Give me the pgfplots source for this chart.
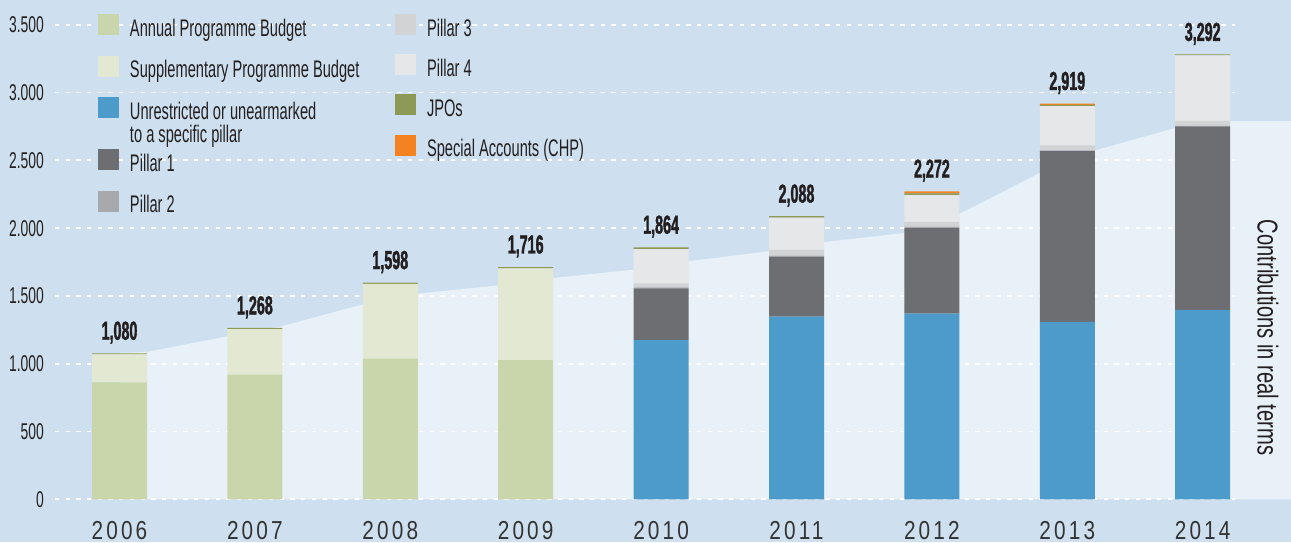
\documentclass[border=0pt]{standalone}
\usepackage{pgfplots}
\pgfplotsset{compat=1.18}
\usepackage{pgfplotstable}
\usepackage{fontspec}
\setmainfont{Liberation Sans}[FakeStretch=0.70]
\newfontfamily\legfont{Liberation Sans}[FakeStretch=0.61]
\newfontfamily\tickfont{Liberation Sans}[FakeStretch=0.61]
\newfontfamily\yearfont{Liberation Sans}[FakeStretch=0.80, LetterSpace=12]
\newfontfamily\valfont{Liberation Sans}[FakeStretch=0.55, BoldFeatures={FakeBold=1.4}]
\newfontfamily\rotfont{Liberation Sans}[FakeStretch=0.70]

\definecolor{bgcol}{HTML}{CEE0EF}
\definecolor{areacol}{HTML}{E8F0F8}
\definecolor{apb}{HTML}{C9D5AA}
\definecolor{spb}{HTML}{E2E8D1}
\definecolor{unr}{HTML}{4D9BCA}
\definecolor{pone}{HTML}{6D6E71}
\definecolor{ptwo}{HTML}{A7A9AC}
\definecolor{pthree}{HTML}{D1D3D4}
\definecolor{pfour}{HTML}{E6E7E8}
\definecolor{jpo}{HTML}{8D9A55}
\definecolor{chp}{HTML}{F58220}
\definecolor{textcol}{HTML}{231F20}
\definecolor{yearcol}{HTML}{333333}

\pgfplotstableread{
x    apb  spb unr  p1   p2 p3 p4  jpo chp tot  lab
2006 863  206 0    0    0  0  0   8   0   1077 1,080
2007 919  337 0    0    0  0  0   8   0   1264 1,268
2008 1037 552 0    0    0  0  0   9   0   1598 1,598
2009 1027 677 0    0    0  0  0   9   0   1713 1,716
2010 0    0   1175 381  8  29 253 13  0   1859 1,864
2011 0    0   1347 443  7  42 238 11  0   2088 2,088
2012 0    0   1369 632  8  38 196 13  16  2272 2,272
2013 0    0   1308 1261 5  36 291 8   10  2919 2,919
2014 0    0   1397 1353 5  36 484 6   0   3281 3,292
}\bardata

\pgfplotstableread{
x       y
2006.0  1080
2006.2  1087
2006.8  1203
2007.2  1277
2007.8  1439
2008.2  1517
2008.8  1578
2009.2  1632
2009.8  1694
2010.2  1756
2010.8  1830
2011.2  1897
2011.8  1965
2012.2  2103
2012.8  2409
2013.2  2572
2013.8  2740
2014.2  2790
2014.66 2790
}\realdata

\pgfplotsset{
  common/.style={scale only axis, width=590pt, height=249.65pt,
    xmin=2005.5236, xmax=2014.2386, ymin=0, ymax=3683,
    at={(0pt,0pt)}, anchor=south west},
  sq/.style={legend image code/.code={\fill[##1] (0pt,0.5pt) rectangle (10.5pt,11pt);}},
  legstyle/.style={legend cell align=left,
    legend style={anchor=north west, draw=none, fill=none, inner sep=0pt, outer sep=0pt,
      column sep=5.5pt, font=\legfont\fontsize{12}{10.75}\selectfont, text=textcol,
      nodes={inner sep=0pt, text depth=2.5pt}, cells={anchor=base west}}},
}

\begin{document}
\begin{tikzpicture}
\fill[bgcol] (-27.5pt,-21.35pt) rectangle (618pt,249.65pt);
\path[use as bounding box] (-27.5pt,-21.35pt) rectangle (618pt,249.65pt);

% background area, grid, tick labels
\begin{axis}[common, clip=false, axis on top,
  axis line style={draw=none}, major tick length=0pt,
  ytick={0,500,...,3500},
  ymajorgrids, grid style={white, line width=0.9pt, dash pattern=on 2.15pt off 3.2pt},
  xtick={2006,2007,2008,2009,2010,2011,2012,2013,2014},
  xticklabels={2006,2007,2008,2009,2010,2011,2012,2013,2014},
  /pgf/number format/assume math mode=true,
  /pgf/number format/1000 sep={.},
  yticklabel style={font=\tickfont\fontsize{11.4}{12}\selectfont, text=textcol, xshift=-2pt},
  xticklabel style={font=\yearfont\fontsize{13}{14}\selectfont, text=yearcol, anchor=base, yshift=-19.95pt},
]
\addplot[fill=areacol, draw=none] table[x=x, y=y] {\realdata} \closedcycle;
\node[rotate=-90, font=\rotfont\fontsize{14.4}{16}\selectfont, text=textcol] at (axis cs:2014.482,1193) {Contributions in real terms};
\end{axis}

% faint vertical stripes
\begin{axis}[at={(-27.5pt,-21.35pt)}, anchor=south west, scale only axis,
  width=645.5pt, height=271pt, xmin=0, xmax=1291, ymin=0, ymax=542,
  axis line style={draw=none}, tick style={draw=none},
  xtick=\empty, ytick=\empty,
  minor xtick={1.7,17,...,1291}, xminorgrids,
  minor grid style={white, opacity=0.3, line width=0.5pt}]
\end{axis}

% bars
\begin{axis}[common, hide axis, ybar stacked, bar width=27.5pt, legstyle,
  legend style={at={(0.03644,0.97196)}, row sep=7.25pt}]
\addplot[sq, fill=apb, draw=none] table[x=x, y=apb] {\bardata};
\addlegendentry{Annual Programme Budget}
\addplot[sq, fill=spb, draw=none] table[x=x, y=spb] {\bardata};
\addlegendentry{Supplementary Programme Budget}
\addplot[sq, fill=unr, draw=none] table[x=x, y=unr] {\bardata};
\addlegendentry[text depth=7.75pt]{\begin{tabular}[t]{@{}l@{}}Unrestricted or unearmarked\\to a specific pillar\end{tabular}}
\addplot[sq, fill=pone, draw=none] table[x=x, y=p1] {\bardata};
\addlegendentry{Pillar 1}
\addplot[sq, fill=ptwo, draw=none] table[x=x, y=p2] {\bardata};
\addlegendentry{Pillar 2}
\addplot[fill=pthree, draw=none] table[x=x, y=p3] {\bardata};
\addplot[fill=pfour, draw=none] table[x=x, y=p4] {\bardata};
\addplot[fill=jpo, draw=none] table[x=x, y=jpo] {\bardata};
\addplot[fill=chp, draw=none] table[x=x, y=chp] {\bardata};
\end{axis}

% second legend column and total labels
\begin{axis}[common, hide axis, clip=false, legstyle,
  legend style={at={(0.28814,0.97196)}, row sep=6.6pt}]
\addlegendimage{sq, fill=pthree, draw=none}
\addlegendentry{Pillar 3}
\addlegendimage{sq, fill=pfour, draw=none}
\addlegendentry{Pillar 4}
\addlegendimage{sq, fill=jpo, draw=none}
\addlegendentry{JPOs}
\addlegendimage{sq, fill=chp, draw=none}
\addlegendentry{Special Accounts (CHP)}
\addplot[only marks, mark=none, forget plot, nodes near coords, point meta=explicit symbolic,
  nodes near coords style={anchor=base, yshift=6.8pt, text=textcol, inner sep=0pt,
    font=\valfont\bfseries\fontsize{13}{14}\selectfont}]
  table[x=x, y=tot, meta=lab] {\bardata};
\end{axis}
\end{tikzpicture}
\end{document}
